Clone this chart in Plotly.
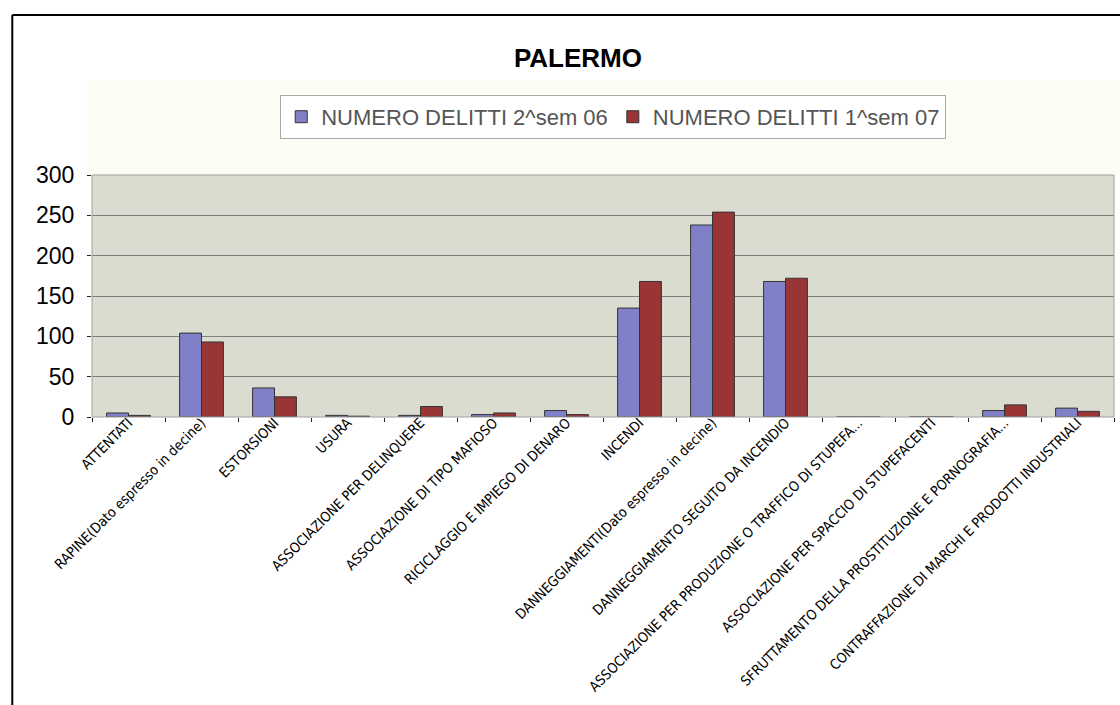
import plotly.graph_objects as go

categories = [
    "ATTENTATI",
    "RAPINE(Dato espresso in decine)",
    "ESTORSIONI",
    "USURA",
    "ASSOCIAZIONE PER DELINQUERE",
    "ASSOCIAZIONE DI TIPO MAFIOSO",
    "RICICLAGGIO E IMPIEGO DI DENARO",
    "INCENDI",
    "DANNEGGIAMENTI(Dato espresso in decine)",
    "DANNEGGIAMENTO SEGUITO DA INCENDIO",
    "ASSOCIAZIONE PER PRODUZIONE O TRAFFICO DI STUPEFA...",
    "ASSOCIAZIONE PER SPACCIO DI STUPEFACENTI",
    "SFRUTTAMENTO DELLA PROSTITUZIONE E PORNOGRAFIA...",
    "CONTRAFFAZIONE DI MARCHI E PRODOTTI INDUSTRIALI",
]
sem2_06 = [5, 104, 36, 2, 2, 3, 8, 135, 238, 168, 0, 0, 8, 11]
sem1_07 = [2, 93, 25, 1, 13, 5, 3, 168, 254, 172, 0, 0, 15, 7]
series_names = ["NUMERO DELITTI 2^sem 06", "NUMERO DELITTI 1^sem 07"]
y_ticks = [0, 50, 100, 150, 200, 250, 300]

fig = go.Figure()
fig.add_trace(go.Bar(x=categories, y=sem2_06, name=series_names[0],
                     marker=dict(color="#8080C8", line=dict(color="#333333", width=1))))
fig.add_trace(go.Bar(x=categories, y=sem1_07, name=series_names[1],
                     marker=dict(color="#993535", line=dict(color="#333333", width=1))))

fig.update_layout(
    width=1120, height=705,
    margin=dict(l=92, r=6, t=175, b=288, autoexpand=False),
    paper_bgcolor="white",
    plot_bgcolor="#D9DCCF",
    barmode="group", bargap=0.4, bargroupgap=0,
    title=dict(text="<b>PALERMO</b>", x=0.516, xanchor="center", y=0.918, yanchor="middle",
               font=dict(family="Arial, Liberation Sans, sans-serif", size=26, color="black")),
    legend=dict(orientation="h", x=0.51, xanchor="center", y=1.24, yanchor="middle",
                bgcolor="white", bordercolor="#AAAAAA", borderwidth=1,
                font=dict(family="Arial, Liberation Sans, sans-serif", size=22, color="#555555"),
                itemwidth=30, traceorder="normal"),
    xaxis=dict(tickangle=-45, ticks="outside", tickson="boundaries", ticklen=4,
               tickcolor="#222222", showgrid=False, showline=False, ticklabelstandoff=-6,
               tickfont=dict(family="Liberation Sans Narrow, DejaVu Sans Condensed, Arial Narrow, sans-serif",
                             size=14, color="black")),
    yaxis=dict(range=[0, 300], tickvals=y_ticks, ticks="outside", ticklen=4, tickcolor="#222222",
               showgrid=True, gridcolor="#7F7F7F", gridwidth=1, showline=False, zeroline=False,
               ticklabelstandoff=8,
               tickfont=dict(family="Arial, Liberation Sans, sans-serif", size=23, color="black")),
    shapes=[
        dict(type="rect", xref="paper", yref="paper", x0=-0.005, x1=1.01, y0=1.0, y1=1.39,
             fillcolor="#FDFDF6", line=dict(width=0), layer="below"),
        dict(type="line", xref="paper", yref="paper", x0=-0.078, x1=-0.078, y0=-1.3, y1=1.661,
             line=dict(color="black", width=2)),
        dict(type="line", xref="paper", yref="paper", x0=-0.078, x1=1.02, y0=1.661, y1=1.661,
             line=dict(color="black", width=2)),
        dict(type="rect", xref="paper", yref="paper", x0=0, x1=1, y0=0, y1=1,
             line=dict(color="#A0A0A0", width=1)),
    ],
)

fig.write_html("out.html")
